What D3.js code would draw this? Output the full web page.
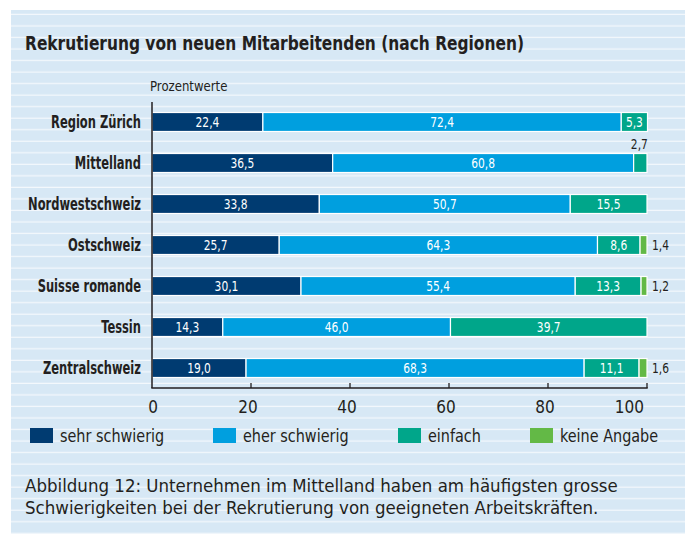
<!DOCTYPE html>
<html>
<head>
<meta charset="utf-8">
<script src="https://cdn.jsdelivr.net/npm/d3@7"></script>
<style>
  html, body { margin: 0; padding: 0; background: #fff; }
  svg { display: block; }
  text { font-family: "DejaVu Sans Condensed", "DejaVu Sans", sans-serif; fill: #231f20; }
</style>
</head>
<body>
<svg id="container" width="690" height="535"></svg>
<script>
const regions = ["Region Zürich", "Mittelland", "Nordwestschweiz", "Ostschweiz", "Suisse romande", "Tessin", "Zentralschweiz"];
const seriesNames = ["sehr schwierig", "eher schwierig", "einfach", "keine Angabe"];
const sehrSchwierig = [22.4, 36.5, 33.8, 25.7, 30.1, 14.3, 19.0];
const eherSchwierig = [72.4, 60.8, 50.7, 64.3, 55.4, 46.0, 68.3];
const einfach = [5.3, 2.7, 15.5, 8.6, 13.3, 39.7, 11.1];
const keineAngabe = [0, 0, 0, 1.4, 1.2, 0, 1.6];
const xTicks = [0, 20, 40, 60, 80, 100];
const colors = ["#003b71", "#009fdf", "#00a68a", "#63b946"];

const svg = d3.select('#container');

// no condensed font available -> squeeze text horizontally
const squeeze = (px, py, k) => `translate(${px},${py}) scale(${k},1)`;

// striped background panel
const defs = svg.append('defs');
const pat = defs.append('pattern')
    .attr('id', 'stripes')
    .attr('patternUnits', 'userSpaceOnUse')
    .attr('width', 10)
    .attr('height', 11.53)
    .attr('y', 3.5);
pat.append('rect').attr('width', 10).attr('height', 11.53).attr('fill', '#d7e8f5');
pat.append('rect').attr('y', 10.3).attr('width', 10).attr('height', 1.5).attr('fill', '#f3f8fc');

svg.append('rect')
    .attr('x', 11).attr('y', 10)
    .attr('width', 674).attr('height', 524)
    .attr('fill', 'url(#stripes)');

svg.append('text')
    .attr('transform', squeeze(25, 50, 0.88))
    .attr('font-size', 19.5)
    .attr('font-weight', 'bold')
    .text('Rekrutierung von neuen Mitarbeitenden (nach Regionen)');

svg.append('text')
    .attr('transform', squeeze(150, 91, 0.9))
    .attr('font-size', 14.5)
    .text('Prozentwerte');

const x = d3.scaleLinear().domain([0, 100]).range([152, 647]);
const y = d3.scaleBand()
    .domain(regions)
    .range([101.5, 388.5])
    .paddingInner(0.537)
    .paddingOuter(0.2685);

const rows = regions.map((r, i) => {
  const vals = [sehrSchwierig[i], eherSchwierig[i], einfach[i], keineAngabe[i]];
  let acc = 0;
  return vals.map((v, k) => {
    const seg = {region: r, key: k, value: v, x0: acc, x1: acc + v};
    acc += v;
    return seg;
  });
});

const g = svg.append('g');
rows.forEach(row => {
  g.selectAll(null)
    .data(row.filter(d => d.value > 0))
    .enter()
    .append('rect')
    .attr('x', d => x(d.x0))
    .attr('y', d => y(d.region))
    .attr('width', d => x(d.x1) - x(d.x0))
    .attr('height', y.bandwidth())
    .attr('fill', d => colors[d.key])
    .attr('stroke', '#fff')
    .attr('stroke-width', 1.2);
});

const fmt = v => v.toFixed(1).replace('.', ',');

rows.forEach(row => {
  row.filter(d => d.value > 0).forEach(d => {
    const cy = y(d.region) + y.bandwidth() / 2;
    if (d.value >= 5) {
      g.append('text')
        .attr('transform', squeeze((x(d.x0) + x(d.x1)) / 2, cy, 0.82))
        .attr('dy', '0.36em')
        .attr('text-anchor', 'middle')
        .attr('font-size', 14.5)
        .style('fill', '#fff')
        .text(fmt(d.value));
    } else if (d.key === 3) {
      g.append('text')
        .attr('transform', squeeze(x(d.x1) + 5, cy, 0.82))
        .attr('dy', '0.36em')
        .attr('font-size', 14.5)
        .text(fmt(d.value));
    } else {
      // small value with no room: put it above the bar
      g.append('text')
        .attr('transform', squeeze((x(d.x0) + x(d.x1)) / 2 - 1, y(d.region) - 5, 0.82))
        .attr('text-anchor', 'middle')
        .attr('font-size', 14.5)
        .text(fmt(d.value));
    }
  });
});

// category labels
svg.selectAll('.cat')
    .data(regions)
    .enter()
    .append('text')
    .attr('class', 'cat')
    .attr('transform', d => squeeze(141, y(d) + y.bandwidth() / 2, 0.73))
    .attr('dy', '0.36em')
    .attr('text-anchor', 'end')
    .attr('font-size', 17.5)
    .attr('font-weight', 'bold')
    .text(d => d);

// axes
svg.append('line')
    .attr('x1', 152).attr('x2', 152)
    .attr('y1', 102).attr('y2', 388)
    .attr('stroke', '#231f20').attr('stroke-width', 1.5);
svg.append('line')
    .attr('x1', 151.3).attr('x2', x(100) + 0.7)
    .attr('y1', 388).attr('y2', 388)
    .attr('stroke', '#231f20').attr('stroke-width', 1.5);
svg.selectAll('.tick')
    .data(xTicks.slice(1))
    .enter()
    .append('line')
    .attr('x1', d => x(d)).attr('x2', d => x(d))
    .attr('y1', 383).attr('y2', 388)
    .attr('stroke', '#231f20').attr('stroke-width', 1.3);
svg.selectAll('.tlab')
    .data(xTicks)
    .enter()
    .append('text')
    .attr('x', d => d === 0 ? x(d) + 1 : d === 100 ? x(d) - 3 : x(d) - 3)
    .attr('y', 407)
    .attr('dy', '0.36em')
    .attr('text-anchor', d => d === 100 ? 'end' : 'middle')
    .attr('font-size', 17)
    .text(d => d);

// legend
const legendX = [30, 213, 398, 530];
const lg = svg.selectAll('.lg')
    .data(seriesNames)
    .enter()
    .append('g')
    .attr('transform', (d, i) => `translate(${legendX[i]},428)`);
lg.append('rect')
    .attr('width', 23).attr('height', 15)
    .attr('fill', (d, i) => colors[i]);
lg.append('text')
    .attr('transform', squeeze(30, 7.5, 0.89))
    .attr('dy', '0.36em')
    .attr('font-size', 18)
    .text(d => d);

// caption
const caption = ["Abbildung 12: Unternehmen im Mittelland haben am häufigsten grosse",
                 "Schwierigkeiten bei der Rekrutierung von geeigneten Arbeitskräften."];
svg.selectAll('.cap')
    .data(caption)
    .enter()
    .append('text')
    .attr('x', 25)
    .attr('y', (d, i) => 492 + i * 22)
    .attr('font-size', 18.5)
    .text(d => d);
</script>
</body>
</html>
